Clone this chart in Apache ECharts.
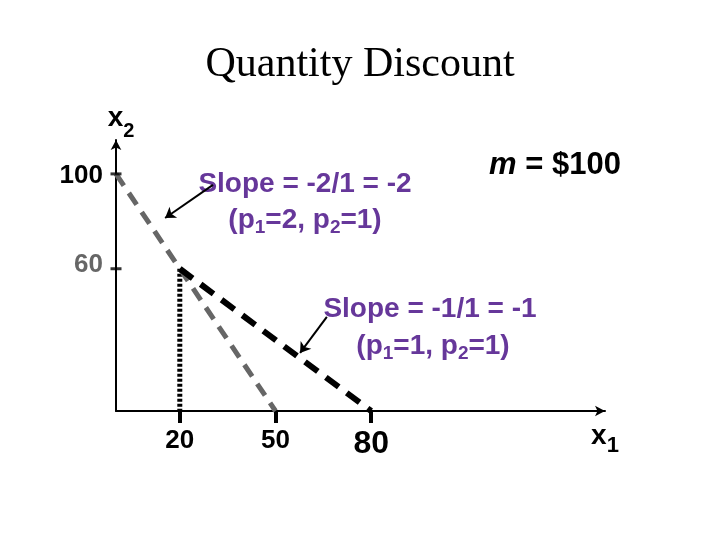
<!DOCTYPE html>
<html lang="en">
<head>
    <meta charset="UTF-8">
    <script src="https://cdn.jsdelivr.net/npm/echarts@6/dist/echarts.min.js"></script>
    <title>Quantity Discount</title>
    <style>
        html, body { margin: 0; padding: 0; background: #fff; }
        #main { width: 720px; height: 540px; }
    </style>
</head>
<body>
<div id="main"></div>
<script type="text/javascript">
    // budget line data (x1, x2)
    var oldLine = [[0, 100], [50, 0]];       // p1=2, p2=1
    var newLine = [[20, 60], [80, 0]];       // p1=1, p2=1 after 20 units
    var kinkDrop = [[20, 60], [20, 0]];
    var xTicks = [20, 50, 80];
    var yTicks = [60, 100];
    // annotation arrows, in data units
    var arrow1 = [[30.4, 95.4], [15.4, 81.4]];
    var arrow2 = [[66.1, 39.7], [57.7, 24.5]];

    var purple = '#66379a';
    var sans = '"Liberation Sans", Arial, sans-serif';

    // rich styles for "(p1=.., p2=..)" lines; the tall sub box pushes the digit down
    var subRich = {
        a: { fontFamily: sans, fontWeight: 'bold', fontSize: 28, lineHeight: 30, verticalAlign: 'top', fill: purple },
        s: { fontFamily: sans, fontWeight: 'bold', fontSize: 19, lineHeight: 44, fill: purple }
    };

    var myChart = echarts.init(document.getElementById('main'));

    var option = {
        backgroundColor: '#fff',
        animation: false,
        grid: { left: 116, right: 115, top: 140, bottom: 129 },
        xAxis: {
            type: 'value',
            min: 0,
            max: 153.3,
            splitLine: { show: false },
            axisLine: {
                show: true,
                symbol: ['none', 'arrow'],
                symbolSize: [8, 10],
                lineStyle: { color: '#000', width: 2 }
            },
            axisTick: {
                show: true,
                customValues: xTicks,
                length: 12,
                lineStyle: { color: '#000', width: 4 }
            },
            axisLabel: {
                customValues: xTicks,
                margin: 17,
                formatter: function (v) {
                    return v === 80 ? '{big|' + v + '}' : '{n|' + v + '}';
                },
                rich: {
                    n: { fontFamily: sans, fontWeight: 'bold', fontSize: 26, color: '#000' },
                    big: { fontFamily: sans, fontWeight: 'bold', fontSize: 32, color: '#000' }
                }
            }
        },
        yAxis: {
            type: 'value',
            min: 0,
            max: 114.3,
            splitLine: { show: false },
            axisLine: {
                show: true,
                symbol: ['none', 'arrow'],
                symbolSize: [8, 10],
                lineStyle: { color: '#000', width: 2 }
            },
            axisTick: { show: false },
            axisLabel: {
                customValues: yTicks,
                margin: 13,
                formatter: function (v) {
                    return v === 100 ? '{k|' + v + '}' : '{g|' + v + '}';
                },
                rich: {
                    k: { fontFamily: sans, fontWeight: 'bold', fontSize: 26, color: '#000', padding: [3, 0, 0, 0] },
                    g: { fontFamily: sans, fontWeight: 'bold', fontSize: 26, color: '#666', padding: [0, 0, 8, 0] }
                }
            }
        },
        series: [
            {
                type: 'line',
                data: kinkDrop,
                symbol: 'none',
                lineStyle: { color: '#000', width: 5, type: [3, 2] },
                z: 2
            },
            {
                type: 'line',
                data: oldLine,
                symbol: 'none',
                lineStyle: { color: '#666', width: 5, type: [14, 9] },
                z: 3
            },
            {
                type: 'line',
                data: newLine,
                symbol: 'none',
                lineStyle: { color: '#000', width: 6, type: [16, 10] },
                z: 4
            },
            {
                // tick marks crossing the y axis
                type: 'scatter',
                data: yTicks.map(function (v) { return [0, v]; }),
                symbol: 'rect',
                symbolSize: [11, 3],
                itemStyle: { color: '#000' },
                clip: false,
                silent: true,
                z: 5
            },
            {
                type: 'lines',
                coordinateSystem: 'cartesian2d',
                data: [{ coords: arrow1 }, { coords: arrow2 }],
                symbol: ['none', 'arrow'],
                symbolSize: 10,
                lineStyle: { color: '#000', width: 2, opacity: 1 },
                z: 6
            }
        ],
        graphic: [
            {
                type: 'text', x: 360, y: 65,
                style: {
                    text: 'Quantity Discount',
                    font: '42px "Liberation Serif", "Times New Roman", serif',
                    fill: '#000', textAlign: 'center', textVerticalAlign: 'middle'
                }
            },
            {
                type: 'text', x: 305, y: 184,
                style: {
                    text: 'Slope = -2/1 = -2',
                    font: 'bold 28px ' + sans,
                    fill: purple, textAlign: 'center', textVerticalAlign: 'middle'
                }
            },
            {
                type: 'text', x: 305, y: 228,
                style: {
                    text: '{a|(p}{s|1}{a|=2, p}{s|2}{a|=1)}',
                    textAlign: 'center', textVerticalAlign: 'middle',
                    rich: subRich
                }
            },
            {
                type: 'text', x: 430, y: 309,
                style: {
                    text: 'Slope = -1/1 = -1',
                    font: 'bold 28px ' + sans,
                    fill: purple, textAlign: 'center', textVerticalAlign: 'middle'
                }
            },
            {
                type: 'text', x: 433, y: 354,
                style: {
                    text: '{a|(p}{s|1}{a|=1, p}{s|2}{a|=1)}',
                    textAlign: 'center', textVerticalAlign: 'middle',
                    rich: subRich
                }
            },
            {
                type: 'text', x: 555, y: 165,
                style: {
                    text: '{i|m}{n| = $100}',
                    textAlign: 'center', textVerticalAlign: 'middle',
                    rich: {
                        i: { fontFamily: sans, fontWeight: 'bold', fontStyle: 'italic', fontSize: 31, fill: '#000' },
                        n: { fontFamily: sans, fontWeight: 'bold', fontSize: 31, fill: '#000' }
                    }
                }
            },
            {
                type: 'text', x: 121, y: 131,
                style: {
                    text: '{x|x}{s|2}',
                    textAlign: 'center', textVerticalAlign: 'middle',
                    rich: {
                        x: { fontFamily: sans, fontWeight: 'bold', fontSize: 28, lineHeight: 28, verticalAlign: 'top', fill: '#000' },
                        s: { fontFamily: sans, fontWeight: 'bold', fontSize: 20, lineHeight: 53, fill: '#000' }
                    }
                }
            },
            {
                type: 'text', x: 605, y: 446,
                style: {
                    text: '{x|x}{s|1}',
                    textAlign: 'center', textVerticalAlign: 'middle',
                    rich: {
                        x: { fontFamily: sans, fontWeight: 'bold', fontSize: 28, lineHeight: 28, verticalAlign: 'top', fill: '#000' },
                        s: { fontFamily: sans, fontWeight: 'bold', fontSize: 22, lineHeight: 48, fill: '#000' }
                    }
                }
            }
        ]
    };

    myChart.setOption(option);
</script>
</body>
</html>
